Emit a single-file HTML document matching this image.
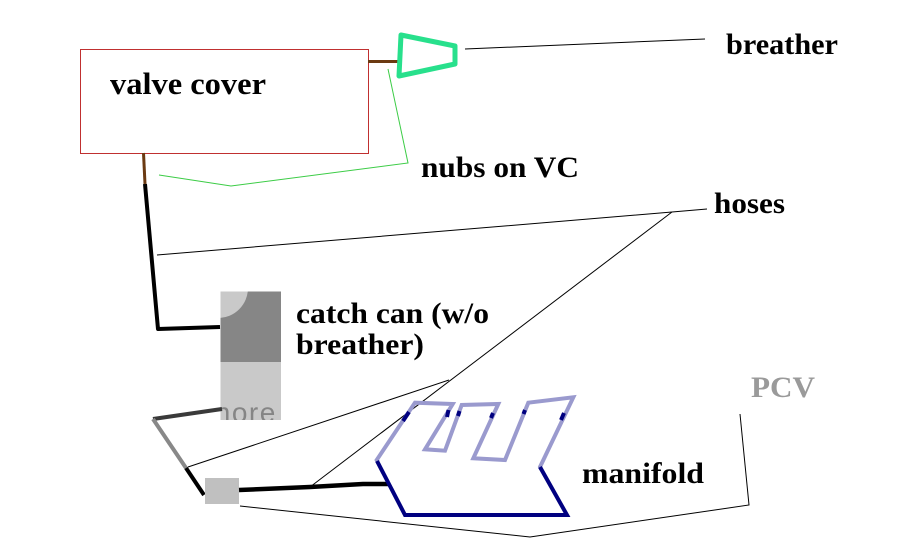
<!DOCTYPE html>
<html>
<head>
<meta charset="utf-8">
<style>
  html, body { margin: 0; padding: 0; background: #fff; }
  svg { display: block; }
  text { font-family: "Liberation Serif", serif; font-weight: bold; }
</style>
</head>
<body>
<svg width="913" height="552" viewBox="0 0 913 552" xmlns="http://www.w3.org/2000/svg">
  <defs>
    <clipPath id="canclip"><rect x="220.5" y="291.5" width="60.5" height="128.5"/></clipPath>
  </defs>
  <rect x="0" y="0" width="913" height="552" fill="#fff"/>

  <!-- valve cover -->
  <rect x="80.5" y="49.5" width="288" height="104" fill="none" stroke="#c03030" stroke-width="1"/>
  <text x="110" y="94" font-size="31" textLength="156" lengthAdjust="spacingAndGlyphs">valve cover</text>

  <!-- brown stub to breather -->
  <line x1="368" y1="61.5" x2="401" y2="61.5" stroke="#6b3a12" stroke-width="3"/>

  <!-- breather trapezoid -->
  <polygon points="401,35 455,46 455,64 399,76" fill="none" stroke="#28e08c" stroke-width="5" stroke-linejoin="round"/>

  <!-- breather leader -->
  <line x1="465" y1="49" x2="705" y2="39" stroke="#000" stroke-width="1"/>
  <text x="726" y="54" font-size="30" textLength="112" lengthAdjust="spacingAndGlyphs">breather</text>

  <!-- nubs leader (green) -->
  <polyline points="388,69 408,163 231,186 159,175" fill="none" stroke="#3ccc46" stroke-width="1"/>
  <text x="421" y="177" font-size="30" textLength="158" lengthAdjust="spacingAndGlyphs">nubs on VC</text>

  <!-- hose from valve cover to catch can -->
  <line x1="143.5" y1="153" x2="145" y2="184" stroke="#6b3a12" stroke-width="3"/>
  <polyline points="145,184 158,329 220,327" fill="none" stroke="#000" stroke-width="4" stroke-linejoin="round"/>

  <!-- hoses leaders -->
  <polyline points="157,255 672,212 707,209" fill="none" stroke="#000" stroke-width="1"/>
  <line x1="672" y1="212" x2="310" y2="487" stroke="#000" stroke-width="1"/>
  <line x1="449" y1="380" x2="188" y2="467" stroke="#000" stroke-width="1"/>
  <text x="714" y="213" font-size="30" textLength="71" lengthAdjust="spacingAndGlyphs">hoses</text>

  <!-- catch can -->
  <g clip-path="url(#canclip)">
    <rect x="220.5" y="291.5" width="60.5" height="71" fill="#868686"/>
    <rect x="220.5" y="362" width="60.5" height="60" fill="#c9c9c9"/>
    <circle cx="218" cy="288" r="30" fill="#c9c9c9"/>
    <text x="207" y="422" font-family="Liberation Sans, sans-serif" font-weight="normal" font-size="28" fill="#858585" letter-spacing="1.5" style="font-family:'Liberation Sans',sans-serif;font-weight:normal">more</text>
  </g>
  <text x="296" y="323" font-size="30" textLength="193" lengthAdjust="spacingAndGlyphs">catch can (w/o</text>
  <text x="296" y="354" font-size="30" textLength="128" lengthAdjust="spacingAndGlyphs">breather)</text>

  <!-- return hose from catch can to square -->
  <line x1="222" y1="409" x2="153" y2="419" stroke="#3a3a3a" stroke-width="4"/>
  <line x1="153" y1="419" x2="186" y2="468" stroke="#888" stroke-width="4"/>
  <line x1="186" y1="468" x2="204" y2="495" stroke="#000" stroke-width="4"/>

  <!-- gray square (PCV fitting) -->
  <rect x="205" y="478" width="34" height="26" fill="#c0c0c0"/>

  <!-- thick hose to manifold -->
  <polyline points="239,490 310,487 363,484 389,484" fill="none" stroke="#000" stroke-width="4.5" stroke-linejoin="round"/>

  <!-- manifold: lavender upper outline -->
  <polyline points="378,462 376.7,460 415,402.7 452.7,404 425,449.3 445,450.7 461.7,405 498.3,404 473.3,458.3 505,460 528.3,402.7 573.3,397.3 540,467 541,469"
            fill="none" stroke="#9a9ace" stroke-width="4" stroke-linejoin="miter"/>
  <!-- navy lower outline -->
  <polyline points="377,461 405,515 567,515 540,467" fill="none" stroke="#000080" stroke-width="4" stroke-linejoin="miter"/>
  <!-- navy blotches -->
  <g stroke="#000080" stroke-width="4" stroke-linecap="butt">
    <line x1="409" y1="412" x2="403" y2="421"/>
    <line x1="448.5" y1="410" x2="447" y2="417"/>
    <line x1="459.5" y1="411" x2="458" y2="416"/>
    <line x1="493" y1="413" x2="491" y2="418"/>
    <line x1="525" y1="410" x2="523.5" y2="414"/>
    <line x1="564" y1="413" x2="561" y2="420"/>
  </g>
  <text x="582" y="483" font-size="30" textLength="122" lengthAdjust="spacingAndGlyphs">manifold</text>

  <!-- PCV leader -->
  <polyline points="240,506 530,537 749,505 740,414" fill="none" stroke="#000" stroke-width="1"/>
  <text x="751" y="397" font-size="30" fill="#9a9a9a" textLength="64" lengthAdjust="spacingAndGlyphs">PCV</text>
</svg>
</body>
</html>
